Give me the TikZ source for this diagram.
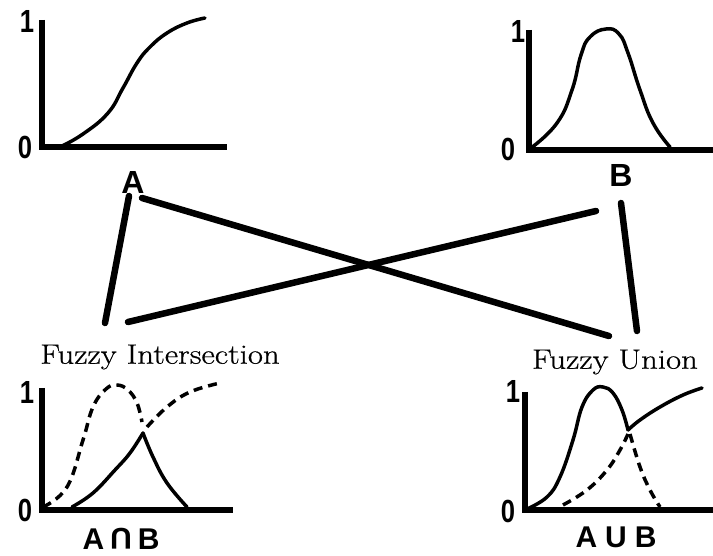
\documentclass[tikz,border=0pt]{standalone}
\usepackage{fontspec}
\setmainfont{Latin Modern Roman}
\newfontfamily\lbl{Liberation Sans}
\newfontfamily\capf[FakeBold=0.6]{Latin Modern Roman}
\begin{document}
\begin{tikzpicture}[x=1pt,y=-1pt,
  axis/.style={line width=6pt,line join=miter},
  curve/.style={line width=3.5pt,line cap=round},
  dcurve/.style={line width=3.5pt,dash pattern=on 9pt off 6pt},
  link/.style={line width=6.5pt,line cap=round},
  digit/.style={font=\lbl\bfseries\fontsize{32}{32}\selectfont,xscale=0.8,inner sep=0pt},
  setlbl/.style={font=\lbl\bfseries\fontsize{32}{32}\selectfont,inner sep=0pt},
  oplbl/.style={font=\lbl\bfseries\fontsize{30}{30}\selectfont,inner sep=0pt},
  captext/.style={font=\capf\fontsize{28}{28}\selectfont,xscale=1.17,inner sep=0pt}]
\useasboundingbox (0,0) rectangle (713,556);
% Panel A
\draw[axis] (42,20) -- (42,147) -- (227,147);
\node[digit] (a1) at (27,21) {1};
\node[digit] (a0) at (25,147) {0};
\draw[curve] plot[smooth,tension=0.75] coordinates {(60,147) (83,134) (108,113) (123,88) (137,63) (150,47) (167,33) (187,23) (205,18)};
\node[setlbl] (A) at (133,182) {A};
% Panel B
\draw[axis] (529,30) -- (529,150) -- (713,150);
\node[digit] (b1) at (518,31) {1};
\node[digit] (b0) at (508,149) {0};
\draw[curve] plot[smooth,tension=0.8] coordinates {(531,148) (557,123) (572,90) (581,55) (590,37) (606,29) (619,34) (628,53) (640,90) (653,123) (670,147)};
\node[setlbl] (B) at (621,175) {B};
% Intersection panel
\draw[axis] (42,388) -- (42,510) -- (233,510);
\node[digit] (i1) at (27,392) {1};
\node[digit] (i0) at (25,510) {0};
\draw[dcurve] plot[smooth,tension=0.7] coordinates {(43,507) (67,487) (83,440) (93,407) (106,389) (117,385) (128,390) (137,403) (142,422)};
\draw[dcurve] plot[smooth,tension=0.7] coordinates {(147,427) (167,407) (190,392) (220,383)};
\draw[curve] plot[smooth,tension=0.7] coordinates {(72,507) (93,493) (115,470) (130,453) (143,433)};
\draw[curve] plot[smooth,tension=0.7] coordinates {(143,433) (153,457) (167,483) (187,507)};
\node[captext] (I) at (160,357) {Fuzzy Intersection};
\node[oplbl] (AnB) at (121,539) {A\hspace{6pt}\rotatebox[origin=c]{180}{U}\hspace{6pt}B};
% Union panel
\draw[axis] (525,392) -- (525,510) -- (713,510);
\node[digit] (u1) at (513,391) {1};
\node[digit] (u0) at (508,511) {0};
\draw[curve] plot[smooth,tension=0.7] coordinates {(527,509) (547,497) (560,477) (573,440) (582,407) (593,390) (603,387) (613,393) (622,410) (628,430)};
\draw[curve] plot[smooth,tension=0.7] coordinates {(628,430) (640,420) (660,407) (683,395) (702,388)};
\draw[dcurve] plot[smooth,tension=0.7] coordinates {(563,505) (587,490) (607,470) (620,450) (628,434)};
\draw[dcurve] plot[smooth,tension=0.7] coordinates {(630,434) (640,467) (650,490) (660,507)};
\node[captext] (U) at (615,362) {Fuzzy Union};
\node[oplbl] (AuB) at (616,537) {A\hspace{8pt}U\hspace{8pt}B};
% Links
\coordinate (a-s) at (129,196);
\coordinate (a-e) at (142,198);
\coordinate (b-w) at (596,211);
\coordinate (b-s) at (621,203);
\coordinate (i-n) at (105,323);
\coordinate (i-e) at (128,322);
\coordinate (u-w) at (609,336);
\coordinate (u-n) at (637,331);
\draw[link] (a-s) -- (i-n);
\draw[link] (a-e) -- (u-w);
\draw[link] (b-w) -- (i-e);
\draw[link] (b-s) -- (u-n);
\end{tikzpicture}
\end{document}
